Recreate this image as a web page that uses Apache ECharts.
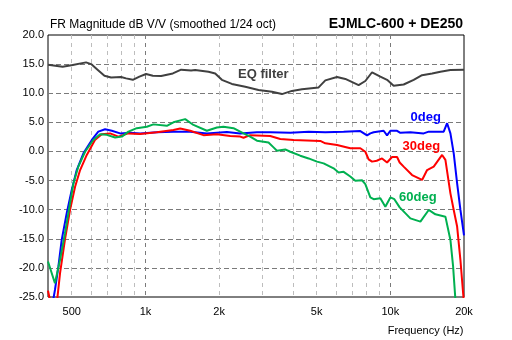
<!DOCTYPE html>
<html><head><meta charset="utf-8">
<script src="https://cdn.jsdelivr.net/npm/echarts@6/dist/echarts.min.js"></script>
<style>html,body{margin:0;padding:0;background:#fff}#c{width:512px;height:340px}</style>
</head><body><div id="c"></div>
<script>
// ---- data (frequency in Hz, level in dB) ----
const eqFreq = [400,459,505,572,600,639,680,724,795,834,888,945,1006,1072,1159,1294,1399,1537,1596,1809,1927,2052,2254,2556,2896,3286,3610,3966,4357,5096,5429,6059,6552,7424,7909,8425,9108,9701,10320,11340,12460,13480,14820,16020,17600,20000];
const eqDb   = [14.9,14.55,14.85,15.3,15.0,14.0,13.0,12.7,12.8,12.55,12.3,12.85,13.3,13.0,12.95,13.4,14.05,13.9,14.0,13.7,13.4,12.3,11.6,11.1,10.55,10.25,9.85,10.4,10.7,11.0,12.2,12.8,12.45,11.4,12.1,13.6,12.85,12.3,11.3,11.5,12.3,13.1,13.4,13.7,14.0,14.05];

const deg0Freq = [420,427,441,455,477,500,524,558,604,642,684,729,788,866,951,1113,1301,1523,1782,2151,2438,2853,3233,3904,4638,5428,6448,7544,7666,8036,8289,8551,9394,9700,10006,10658,10994,12079,13691,14351,16525,17063,17602,18158,18748,19340,20000];
const deg0Db   = [-25.5,-23.8,-19.8,-15.2,-10.6,-6.6,-3.2,-0.33,1.97,3.4,3.8,3.55,3.1,3.2,3.1,3.3,3.4,3.4,3.1,3.35,3.1,3.3,3.3,3.2,3.4,3.3,3.4,3.5,3.7,2.75,3.1,3.3,3.55,2.75,3.55,3.55,3.2,3.3,3.1,3.4,3.4,4.85,3.1,-0.33,-5.5,-10.05,-14.4];

const deg30Freq = [400,410,436,448,469,492,516,541,576,622,663,717,775,852,951,1113,1301,1386,1523,1726,1958,2219,2438,2515,2678,3233,3553,4026,5178,5428,6059,6866,7544,7908,8158,8423,8800,9254,9700,10168,10658,10922,11341,12274,13486,14137,15043,16278,16792,17602,18158,18748,19340,19838,20000];
const deg30Db   = [-23.9,-26,-25.5,-20.9,-15.2,-10.05,-6.05,-3.2,-0.6,1.97,2.95,3.1,2.55,3.1,3.0,3.3,3.7,3.95,3.55,2.8,2.95,2.65,2.55,2.35,2.8,2.65,2.15,1.97,1.8,1.4,1.1,0.55,0.55,-0.05,-1.35,-1.75,-1.6,-1.2,-1.9,-0.95,-0.95,-1.9,-2.6,-4.05,-4.9,-3.2,-2.6,-0.6,-1.45,-7.2,-10.05,-12.9,-18.65,-24.4,-26];

const deg60Freq = [400,427,448,469,492,508,532,567,612,653,695,752,801,852,922,1013,1078,1223,1301,1453,1571,1782,1958,2083,2289,2515,2678,2853,3182,3336,3444,3724,3904,4288,4638,5019,5341,5868,6151,6448,6866,7197,7666,7908,8289,8551,9107,9546,10006,10390,10922,12079,13272,14351,15285,16792,17602,18055,18450];
const deg60Db   = [-18.9,-22.65,-18.6,-14.1,-8.9,-5.5,-2.6,-0.05,1.97,2.95,2.85,2.4,2.55,3.4,4.0,4.25,4.65,4.4,5.0,5.55,4.55,3.55,4.1,4.25,4.0,3.1,2.55,1.85,1.55,0.7,0.13,0.35,-0.05,-0.73,-1.2,-1.75,-2.05,-2.9,-3.6,-3.5,-4.3,-5.05,-4.95,-5.6,-7.9,-8.2,-8.05,-9.5,-7.9,-8.2,-9.6,-11.5,-12.05,-10.05,-10.8,-11.2,-15.2,-19.8,-25.5];

const xLabelValues = [500,1000,2000,5000,10000,20000];
const xGridValues  = [500,600,700,800,900,1000,2000,3000,4000,5000,6000,7000,8000,9000,10000];
const xMajorGrid   = [1000,10000];
const yTickValues  = [-25,-20,-15,-10,-5,0,5,10,15,20];

const titleText = 'FR Magnitude dB V/V (smoothed 1/24 oct)';
const chartName = 'EJMLC-600 + DE250';
const xAxisName = 'Frequency (Hz)';
const seriesNames = ['EQ filter','0deg','30deg','60deg'];
const seriesColors = ['#404040','#0000ff','#ff0000','#00b050'];

// ---- chart ----
const FONT = '"Liberation Sans", Arial, sans-serif';
const pairs = (f, d) => f.map((v, i) => [v, d[i]]);
const chart = echarts.init(document.getElementById('c'), null, {renderer: 'canvas'});
const mk = (name, data, color, z) => ({
  name, type: 'line', data, showSymbol: false, symbol: 'none', smooth: false,
  lineStyle: {color, width: 2}, itemStyle: {color}, clip: true, z, animation: false
});
chart.setOption({
  animation: false,
  backgroundColor: '#fff',
  grid: {left: 48, right: 48, top: 35, bottom: 43, show: true, borderColor: '#000', borderWidth: 1, backgroundColor: '#fff'},
  xAxis: {
    type: 'log', logBase: 10, min: 400, max: 20000,
    axisLine: {show: false},
    axisTick: {show: false, customValues: xGridValues},
    axisLabel: {
      customValues: xLabelValues, fontSize: 11, fontFamily: FONT, color: '#000', margin: 9,
      formatter: v => v >= 1000 ? (Math.round(v / 1000) + 'k') : String(Math.round(v))
    },
    splitLine: {show: true, lineStyle: {
      color: xGridValues.map(v => xMajorGrid.indexOf(v) >= 0 ? '#7a7a7a' : '#bdbdbd'),
      type: [4, 4], width: 1}}
  },
  yAxis: {
    type: 'value', min: yTickValues[0], max: yTickValues[yTickValues.length - 1], interval: 5,
    axisLine: {show: false}, axisTick: {show: false},
    axisLabel: {fontSize: 11, fontFamily: FONT, color: '#000', margin: 4, formatter: v => v.toFixed(1)},
    splitLine: {show: true, showMinLine: false, showMaxLine: false, lineStyle: {color: '#7a7a7a', type: [5, 3], width: 1}}
  },
  series: [
    mk(seriesNames[0], pairs(eqFreq, eqDb), seriesColors[0], 2),
    mk(seriesNames[1], pairs(deg0Freq, deg0Db), seriesColors[1], 3),
    mk(seriesNames[2], pairs(deg30Freq, deg30Db), seriesColors[2], 4),
    mk(seriesNames[3], pairs(deg60Freq, deg60Db), seriesColors[3], 5)
  ],
  graphic: [
    {type: 'text', x: 50, y: 25, style: {text: titleText, font: '12px ' + FONT, fill: '#000', align: 'left', verticalAlign: 'middle'}},
    {type: 'text', x: 463, y: 24, style: {text: chartName, font: 'bold 14px ' + FONT, fill: '#000', align: 'right', verticalAlign: 'middle'}},
    {type: 'text', x: 463.5, y: 331, style: {text: xAxisName, font: '11px ' + FONT, fill: '#000', align: 'right', verticalAlign: 'middle'}},
    {type: 'text', x: 238, y: 74.5, z: 10, style: {text: seriesNames[0], font: 'bold 13px ' + FONT, fill: seriesColors[0], align: 'left', verticalAlign: 'middle'}},
    {type: 'text', x: 410.5, y: 117, z: 10, style: {text: seriesNames[1], font: 'bold 13px ' + FONT, fill: seriesColors[1], align: 'left', verticalAlign: 'middle'}},
    {type: 'text', x: 402.5, y: 146, z: 10, style: {text: seriesNames[2], font: 'bold 13px ' + FONT, fill: seriesColors[2], align: 'left', verticalAlign: 'middle'}},
    {type: 'text', x: 399, y: 197, z: 10, style: {text: seriesNames[3], font: 'bold 13px ' + FONT, fill: seriesColors[3], align: 'left', verticalAlign: 'middle'}}
  ]
});
</script></body></html>
